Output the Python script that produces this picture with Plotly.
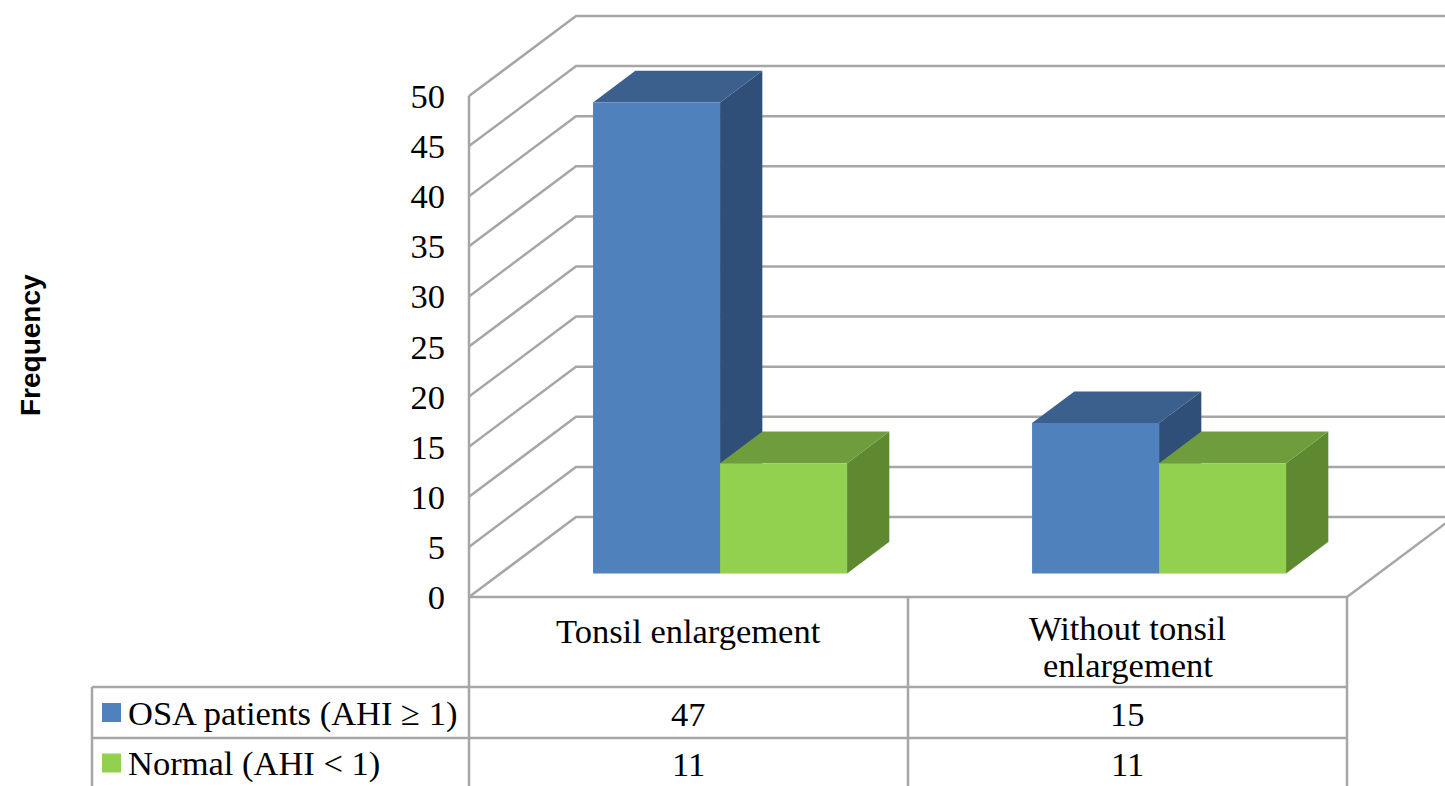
import plotly.graph_objects as go

# ---- data -------------------------------------------------------------
categories = ["Tonsil enlargement", "Without tonsil enlargement"]
category_lines = [["Tonsil enlargement"], ["Without tonsil", "enlargement"]]
series_names = ["OSA patients (AHI \u2265 1)", "Normal (AHI < 1)"]
osa_values = [47, 15]
normal_values = [11, 11]
y_ticks = list(range(0, 51, 5))

# ---- styling ------------------------------------------------------------
blue_faces = {"front": "#4F81BD", "top": "#3C608E", "side": "#2F4F78"}
green_faces = {"front": "#92D050", "top": "#709D3C", "side": "#5F8930"}
grid_color = "#A6A6A6"
serif = "Liberation Serif, Times New Roman, serif"
text_size = 34.5

# ---- page geometry (pixels) ---------------------------------------------
W, H = 1445, 786
X_LEFT, X_RIGHT = 469, 1347          # front edge of the floor
Y_ZERO = 597                          # pixel row of value 0 on the front plane
PX_PER_UNIT = 10.02
CAT_PX = (X_RIGHT - X_LEFT) / len(categories)
DEPTH_DX_PX, DEPTH_DY_PX = 107, 80    # oblique offset of the back wall

x_range = [-X_LEFT / CAT_PX, (W - X_LEFT) / CAT_PX]
y_range = [(Y_ZERO - H) / PX_PER_UNIT, Y_ZERO / PX_PER_UNIT]
DX = DEPTH_DX_PX / CAT_PX
DV = DEPTH_DY_PX / PX_PER_UNIT


def proj(x, v, d):
    """Oblique projection: category position x, value v, depth d (0 front .. 1 back)."""
    return x + d * DX, v + d * DV


def px_x(px):
    return (px - X_LEFT) / CAT_PX


def px_v(py):
    return (Y_ZERO - py) / PX_PER_UNIT


fig = go.Figure()


def add_poly(points, color):
    xs = [p[0] for p in points] + [points[0][0]]
    ys = [p[1] for p in points] + [points[0][1]]
    fig.add_trace(go.Scatter(x=xs, y=ys, mode="lines", fill="toself",
                             fillcolor=color, line=dict(width=0, color=color),
                             hoverinfo="skip", showlegend=False))


def add_lines(segments, width=2.5):
    xs, ys = [], []
    for seg in segments:
        for p in seg:
            xs.append(p[0])
            ys.append(p[1])
        xs.append(None)
        ys.append(None)
    fig.add_trace(go.Scatter(x=xs, y=ys, mode="lines",
                             line=dict(color=grid_color, width=width),
                             hoverinfo="skip", showlegend=False))


n_cat = len(categories)

# ---- walls, floor and gridlines -----------------------------------------
segments = []
for v in y_ticks:
    segments.append([proj(0, v, 0), proj(0, v, 1), proj(n_cat + 0.5, v, 1)])
segments.append([proj(0, 0, 0), proj(n_cat, 0, 0)])             # front floor edge
segments.append([proj(n_cat, 0, 0), proj(n_cat, 0, 1)])          # right floor edge
segments.append([proj(0, y_ticks[-1], 0), (0, y_range[0])])      # value axis line

# ---- data table lines -----------------------------------------------------
table_left = px_x(92)
row_tops = [px_v(687), px_v(738)]
for k in range(1, n_cat + 1):
    segments.append([(k, 0), (k, y_range[0])])
for r in row_tops:
    segments.append([(table_left, r), (n_cat, r)])
segments.append([(table_left, row_tops[0]), (table_left, y_range[0])])
add_lines(segments)

# ---- 3D bars --------------------------------------------------------------
bar_w = 0.2893
d0, d1 = 0.295, 0.69
series = [(osa_values, blue_faces), (normal_values, green_faces)]
for ci in range(n_cat):
    for si, (vals, faces) in enumerate(series):
        v = vals[ci]
        x0 = ci + 0.5 - bar_w * len(series) / 2 + si * bar_w
        x1 = x0 + bar_w
        add_poly([proj(x1, 0, d0), proj(x1, 0, d1), proj(x1, v, d1), proj(x1, v, d0)], faces["side"])
        add_poly([proj(x0, v, d0), proj(x0, v, d1), proj(x1, v, d1), proj(x1, v, d0)], faces["top"])
        add_poly([proj(x0, 0, d0), proj(x1, 0, d0), proj(x1, v, d0), proj(x0, v, d0)], faces["front"])

# ---- table text -------------------------------------------------------------
annotations = []
header_centres = {1: [px_v(631)], 2: [px_v(628), px_v(665)]}
for ci, lines in enumerate(category_lines):
    for li, line in enumerate(lines):
        annotations.append(dict(x=ci + 0.5, y=header_centres[len(lines)][li], text=line,
                                xref="x", yref="y", showarrow=False,
                                xanchor="center", yanchor="middle",
                                font=dict(family=serif, size=text_size, color="#000000")))

row_centres = [px_v(713.5), px_v(763.5)]
for si, (vals, faces) in enumerate(series):
    for ci, v in enumerate(vals):
        annotations.append(dict(x=ci + 0.5, y=row_centres[si], text=str(v),
                                xref="x", yref="y", showarrow=False,
                                xanchor="center", yanchor="middle",
                                font=dict(family=serif, size=text_size, color="#000000")))
    annotations.append(dict(x=px_x(126), y=row_centres[si], text=series_names[si],
                            xref="x", yref="y", showarrow=False,
                            xanchor="left", yanchor="middle",
                            font=dict(family=serif, size=text_size, color="#000000")))

# legend keys in the table
fig.add_trace(go.Scatter(x=[px_x(111.5)] * 2, y=[px_v(712.5), px_v(763)],
                         mode="markers",
                         marker=dict(symbol="square", size=19,
                                     color=[blue_faces["front"], green_faces["front"]],
                                     line=dict(width=0)),
                         hoverinfo="skip", showlegend=False))

annotations.append(dict(x=30 / W, y=1 - 345 / H, xref="paper", yref="paper",
                        text="<b>Frequency</b>", textangle=-90, showarrow=False,
                        xanchor="center", yanchor="middle",
                        font=dict(family="Liberation Sans, Arial, sans-serif", size=28,
                                  color="#000000")))

fig.update_layout(
    width=W, height=H,
    margin=dict(l=0, r=0, t=0, b=0),
    paper_bgcolor="white", plot_bgcolor="white",
    showlegend=False,
    annotations=annotations,
    xaxis=dict(range=x_range, visible=False, fixedrange=True),
    yaxis=dict(range=y_range, anchor="free", position=X_LEFT / W, side="left",
               tickmode="array", tickvals=y_ticks, ticktext=[str(t) for t in y_ticks],
               showgrid=False, zeroline=False, showline=False, ticks="",
               ticklabelstandoff=24,
               tickfont=dict(family=serif, size=text_size, color="#000000"),
               fixedrange=True),
)

fig.write_html("out.html", config={"displayModeBar": False})
